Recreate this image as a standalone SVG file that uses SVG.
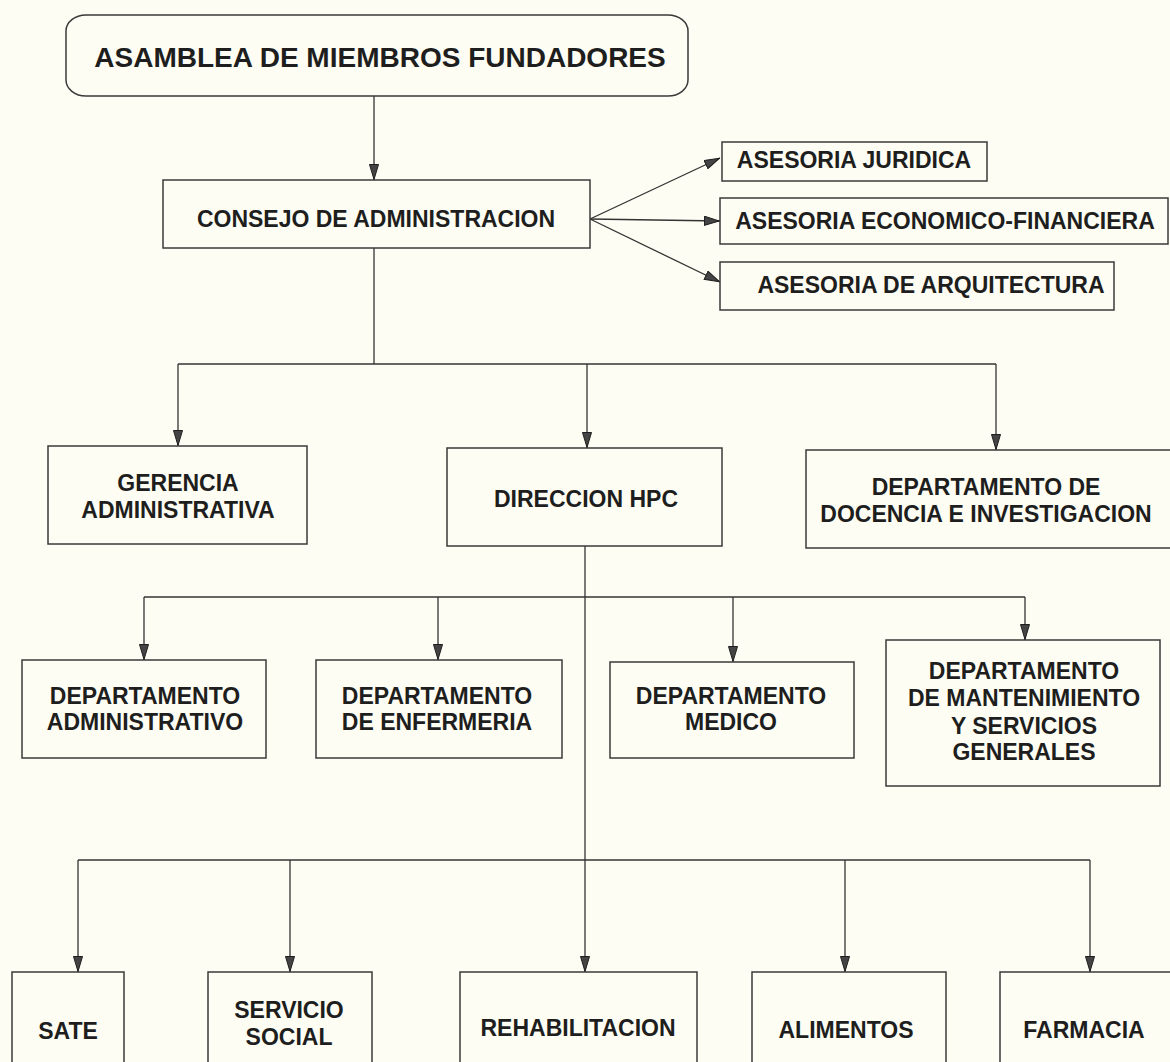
<svg xmlns="http://www.w3.org/2000/svg" width="1170" height="1062" viewBox="0 0 1170 1062">
<style>
.bx{fill:#fdfdf3;stroke:#3a3a3a;stroke-width:1.5}
.t{font-family:"Liberation Sans",Arial,sans-serif;font-weight:bold;font-size:23px;fill:#1e1e1e;text-anchor:middle}
.c{fill:none;stroke:#333;stroke-width:1.3}
</style>
<defs>
<marker id="ah" viewBox="0 0 16 10" refX="16" refY="5" markerWidth="16" markerHeight="10" markerUnits="userSpaceOnUse" orient="auto">
<path d="M0.5,0.5 L15.5,5 L0.5,9.5 Z" fill="#444" stroke="#1e1e1e" stroke-width="1"/>
</marker>
</defs>
<rect width="1170" height="1062" fill="#fdfdf3"/>
<g id="connectors">
<path class="c" d="M374,96 V180" marker-end="url(#ah)"/>
<path class="c" d="M590,219 L720,158" marker-end="url(#ah)"/>
<path class="c" d="M590,219 L720,221" marker-end="url(#ah)"/>
<path class="c" d="M590,219 L720,282" marker-end="url(#ah)"/>
<path class="c" d="M374,248 V364"/>
<path class="c" d="M178,364 H996"/>
<path class="c" d="M178,364 V446" marker-end="url(#ah)"/>
<path class="c" d="M587,364 V448" marker-end="url(#ah)"/>
<path class="c" d="M996,364 V450" marker-end="url(#ah)"/>
<path class="c" d="M585,546 V972" marker-end="url(#ah)"/>
<path class="c" d="M144,597 H1025"/>
<path class="c" d="M144,597 V660" marker-end="url(#ah)"/>
<path class="c" d="M438,597 V660" marker-end="url(#ah)"/>
<path class="c" d="M733,597 V662" marker-end="url(#ah)"/>
<path class="c" d="M1025,597 V640" marker-end="url(#ah)"/>
<path class="c" d="M78,860 H1090"/>
<path class="c" d="M78,860 V972" marker-end="url(#ah)"/>
<path class="c" d="M290,860 V972" marker-end="url(#ah)"/>
<path class="c" d="M845,860 V972" marker-end="url(#ah)"/>
<path class="c" d="M1090,860 V972" marker-end="url(#ah)"/>
</g>
<g id="asamblea"><rect class="bx" x="66" y="15" width="622" height="81" rx="20" ry="16"/><text class="t" style="font-size:28px" x="380" y="67">ASAMBLEA DE MIEMBROS FUNDADORES</text></g>
<g id="consejo"><rect class="bx" x="163" y="180" width="427" height="68"/><text class="t" x="376" y="227">CONSEJO DE ADMINISTRACION</text></g>
<g id="juridica"><rect class="bx" x="722" y="142" width="265" height="39"/><text class="t" x="854" y="168">ASESORIA JURIDICA</text></g>
<g id="economico"><rect class="bx" x="720" y="198" width="448" height="46"/><text class="t" x="945" y="229">ASESORIA ECONOMICO-FINANCIERA</text></g>
<g id="arquitectura"><rect class="bx" x="720" y="262" width="394" height="48"/><text class="t" x="931" y="293">ASESORIA DE ARQUITECTURA</text></g>
<g id="gerencia"><rect class="bx" x="48" y="446" width="259" height="98"/><text class="t" x="178" y="491">GERENCIA</text><text class="t" x="178" y="518">ADMINISTRATIVA</text></g>
<g id="direccion"><rect class="bx" x="447" y="448" width="275" height="98"/><text class="t" x="586" y="507">DIRECCION HPC</text></g>
<g id="docencia"><rect class="bx" x="806" y="450" width="370" height="98"/><text class="t" x="986" y="495">DEPARTAMENTO DE</text><text class="t" x="986" y="522">DOCENCIA E INVESTIGACION</text></g>
<g id="dept-admin"><rect class="bx" x="22" y="660" width="244" height="98"/><text class="t" x="145" y="704">DEPARTAMENTO</text><text class="t" x="145" y="730">ADMINISTRATIVO</text></g>
<g id="dept-enfermeria"><rect class="bx" x="316" y="660" width="246" height="98"/><text class="t" x="437" y="704">DEPARTAMENTO</text><text class="t" x="437" y="730">DE ENFERMERIA</text></g>
<g id="dept-medico"><rect class="bx" x="610" y="662" width="244" height="96"/><text class="t" x="731" y="704">DEPARTAMENTO</text><text class="t" x="731" y="730">MEDICO</text></g>
<g id="dept-mantenimiento"><rect class="bx" x="886" y="640" width="274" height="146"/><text class="t" x="1024" y="679">DEPARTAMENTO</text><text class="t" x="1024" y="706">DE MANTENIMIENTO</text><text class="t" x="1024" y="734">Y SERVICIOS</text><text class="t" x="1024" y="760">GENERALES</text></g>
<g id="sate"><rect class="bx" x="12" y="972" width="112" height="110"/><text class="t" x="68" y="1039">SATE</text></g>
<g id="servicio-social"><rect class="bx" x="208" y="972" width="164" height="110"/><text class="t" x="289" y="1018">SERVICIO</text><text class="t" x="289" y="1045">SOCIAL</text></g>
<g id="rehabilitacion"><rect class="bx" x="460" y="972" width="237" height="110"/><text class="t" x="578" y="1036">REHABILITACION</text></g>
<g id="alimentos"><rect class="bx" x="752" y="972" width="194" height="110"/><text class="t" x="846" y="1038">ALIMENTOS</text></g>
<g id="farmacia"><rect class="bx" x="1000" y="972" width="180" height="110"/><text class="t" x="1084" y="1038">FARMACIA</text></g>
</svg>
